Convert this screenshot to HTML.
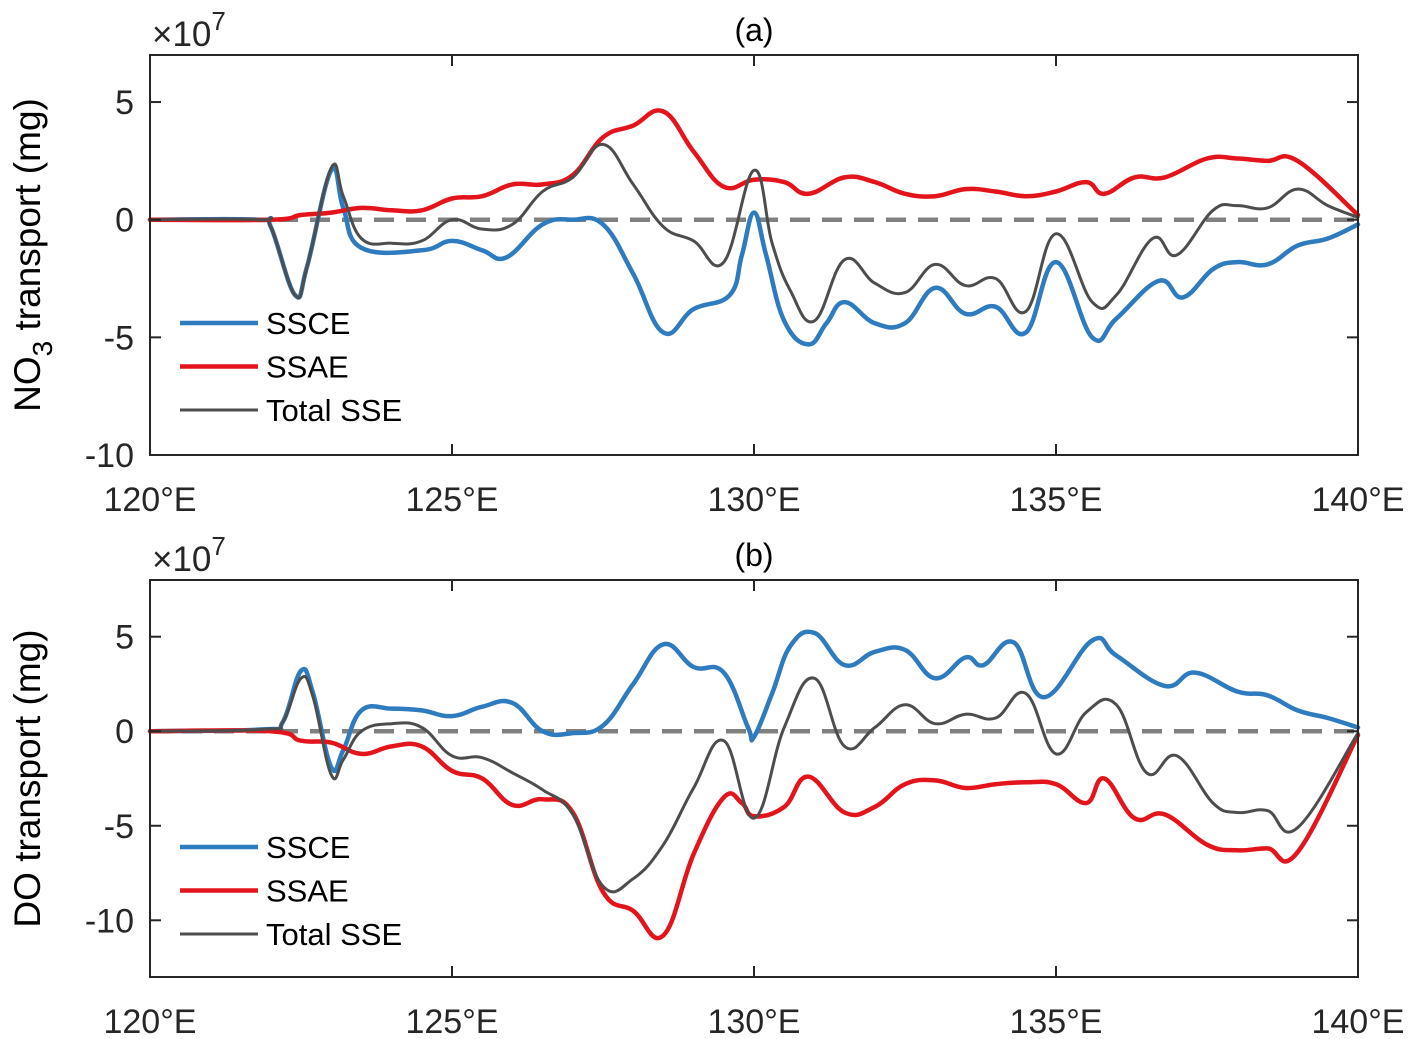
<!DOCTYPE html>
<html><head><meta charset="utf-8"><style>
html,body{margin:0;padding:0;background:#fff;}
svg{display:block;font-family:"Liberation Sans",Arial,sans-serif;}
</style></head><body>
<svg id="fig" width="1417" height="1039" viewBox="0 0 1417 1039"></svg>
<script>
// ---- Data (units of 1e7 mg), longitude in degrees E ----
const xTickLabels = ["120°E","125°E","130°E","135°E","140°E"];
const xTickVals = [120,125,130,135,140];
const yTicksA = [5,0,-5,-10];
const yTicksB = [5,0,-5,-10];
const seriesNames = ["SSCE","SSAE","Total SSE"];

const lonA_ssce = [120,121.8,122.0,122.4,122.6,123.0,123.2,123.5,124.5,125.0,125.5,125.9,126.5,127.0,127.5,128.0,128.5,129.0,129.6,129.8,130.0,130.2,130.5,130.9,131.2,131.5,132.0,132.5,133.0,133.5,134.0,134.5,135.0,135.6,136.0,136.7,137.1,137.6,138.0,138.5,139.0,139.5,140];
const valA_ssce = [0,0,-0.3,-3.2,-2.0,2.1,0.5,-1.2,-1.3,-0.9,-1.3,-1.6,-0.2,0.0,-0.2,-2.3,-4.8,-3.8,-3.2,-1.5,0.3,-1.5,-4.3,-5.3,-4.4,-3.5,-4.4,-4.4,-2.9,-4.0,-3.7,-4.8,-1.8,-5.0,-4.2,-2.6,-3.3,-2.1,-1.8,-1.9,-1.1,-0.8,-0.2];
const lonA_ssae = [120,122,122.5,123.0,123.5,124.0,124.5,125.0,125.5,126.0,126.5,127.0,127.5,128.0,128.5,129.0,129.5,130.0,130.5,130.9,131.5,132.0,132.5,133.0,133.5,134.0,134.5,135.0,135.5,135.8,136.3,136.8,137.5,138.0,138.5,139.0,140];
const valA_ssae = [0,0,0.2,0.3,0.5,0.4,0.4,0.9,1.0,1.5,1.5,1.9,3.5,4.0,4.6,2.9,1.4,1.7,1.6,1.1,1.8,1.6,1.1,1.0,1.3,1.2,1.0,1.2,1.6,1.1,1.8,1.8,2.6,2.6,2.5,2.5,0.2];
const lonA_tot = [120,121.8,122.0,122.4,122.6,123.0,123.2,123.5,124.0,124.5,125.0,125.5,126.0,126.5,127.0,127.5,128.0,128.5,129.0,129.5,130.0,130.3,130.6,131.0,131.5,132.0,132.5,133.0,133.5,134.0,134.5,135.0,135.6,136.0,136.6,137.0,137.6,138.0,138.5,139.0,139.5,140];
const valA_tot = [0,0,-0.3,-3.2,-2.0,2.2,1.0,-0.8,-1.0,-0.9,0.0,-0.4,-0.2,1.2,1.8,3.2,1.5,-0.3,-0.9,-1.8,2.1,-1.0,-3.0,-4.3,-1.7,-2.7,-3.1,-1.9,-2.8,-2.5,-3.9,-0.6,-3.5,-3.2,-0.8,-1.5,0.4,0.6,0.5,1.3,0.6,0.1];

const lonB_ssce = [120,121.9,122.2,122.5,122.7,123.0,123.2,123.5,124.0,124.5,125.0,125.5,126.0,126.5,127.0,127.5,128.0,128.5,129.0,129.5,129.9,130.0,130.3,130.6,131.0,131.5,132.0,132.5,133.0,133.5,133.8,134.3,134.8,135.6,136.0,136.8,137.3,138.0,138.5,139.0,139.5,140];
const valB_ssce = [0,0.1,0.5,3.2,2.0,-1.9,-1.0,1.1,1.2,1.1,0.8,1.3,1.5,0.0,-0.1,0.3,2.5,4.6,3.4,3.1,0.2,-0.3,2.0,4.5,5.2,3.5,4.2,4.3,2.8,3.9,3.5,4.7,1.8,4.8,4.0,2.4,3.1,2.1,1.9,1.1,0.7,0.2];
const lonB_ssae = [120,122,122.5,123.0,123.5,124.0,124.5,125.0,125.5,126.0,126.5,127.0,127.5,128.0,128.5,129.0,129.5,129.8,130.0,130.5,130.9,131.5,132.0,132.5,133.0,133.5,134.0,134.5,135.0,135.5,135.8,136.3,136.8,137.5,138.0,138.5,139.0,140];
const valB_ssae = [0,0,-0.5,-0.6,-1.2,-0.8,-0.8,-2.1,-2.5,-3.9,-3.6,-4.3,-8.5,-9.5,-10.8,-6.5,-3.5,-3.8,-4.5,-4.0,-2.4,-4.3,-4.0,-2.8,-2.6,-3.0,-2.8,-2.7,-2.8,-3.8,-2.5,-4.6,-4.4,-6.0,-6.3,-6.2,-6.4,-0.2];
const lonB_tot = [120,121.9,122.2,122.5,122.7,123.0,123.2,123.5,124.0,124.5,125.0,125.5,126.0,126.5,127.0,127.5,128.0,128.5,129.0,129.5,130.0,130.5,131.0,131.5,132.0,132.5,133.0,133.5,134.0,134.5,135.0,135.5,136.0,136.5,137.0,137.6,138.0,138.5,139.0,140];
const valB_tot = [0,0.1,0.5,2.8,1.8,-2.3,-1.5,0.0,0.4,0.2,-1.3,-1.4,-2.2,-3.1,-4.4,-8.2,-7.8,-6.0,-3.0,-0.5,-4.6,0.2,2.8,-0.8,0.2,1.4,0.4,0.9,0.7,2.0,-1.2,1.0,1.4,-2.2,-1.3,-3.8,-4.3,-4.2,-5.1,-0.1];

const NS="http://www.w3.org/2000/svg";
const svg=document.getElementById('fig');
function mk(tag,attrs,parent){const e=document.createElementNS(NS,tag);for(const k in attrs)e.setAttribute(k,attrs[k]);(parent||svg).appendChild(e);return e;}

const L=150,R=1358;
function xS(lon){return L+(lon-120)/20*(R-L);}

function smoothPath(pts){
  let d='M'+pts[0][0].toFixed(1)+','+pts[0][1].toFixed(1);
  for(let i=0;i<pts.length-1;i++){
    const p0=pts[Math.max(i-1,0)],p1=pts[i],p2=pts[i+1],p3=pts[Math.min(i+2,pts.length-1)];
    const t=0.2;
    const c1x=p1[0]+(p2[0]-p0[0])*t, c1y=p1[1]+(p2[1]-p0[1])*t;
    const c2x=p2[0]-(p3[0]-p1[0])*t, c2y=p2[1]-(p3[1]-p1[1])*t;
    d+=' C'+c1x.toFixed(1)+','+c1y.toFixed(1)+' '+c2x.toFixed(1)+','+c2y.toFixed(1)+' '+p2[0].toFixed(1)+','+p2[1].toFixed(1);
  }
  return d;
}

function panel(id,top,bottom,ymin,ymax,yTicks,title,ylabel,series,legY,xlabY){
  const g=mk('g',{});
  
  
  const yS=v=>top+(ymax-v)/(ymax-ymin)*(bottom-top);
  const z=mk('line',{x1:L,x2:R,y1:yS(0),y2:yS(0),stroke:'#808080','stroke-width':4.5,'stroke-dasharray':'20 12'},g);
  
  
  series.forEach(s=>{
    const pts=s.lon.map((lo,i)=>[xS(lo),yS(s.val[i])]);
    const p=mk('path',{d:smoothPath(pts),fill:'none',stroke:s.color,'stroke-width':s.w,'stroke-linejoin':'round','stroke-linecap':'round'},g);
    
    
  });
  const f=mk('rect',{x:L,y:top,width:R-L,height:bottom-top,fill:'none',stroke:'#262626','stroke-width':2},g);
  
  
  yTicks.forEach(v=>{
    const y=yS(v);
    mk('line',{x1:L,x2:L+11,y1:y,y2:y,stroke:'#262626','stroke-width':2},g);
    mk('line',{x1:R-11,x2:R,y1:y,y2:y,stroke:'#262626','stroke-width':2},g);
    const t=mk('text',{x:L-16,y:y+12,'text-anchor':'end','font-size':34,fill:'#262626'},g);
    t.textContent=String(v);
    
    
  });
  xTickVals.forEach((v,i)=>{
    const x=xS(v);
    mk('line',{x1:x,x2:x,y1:bottom,y2:bottom-11,stroke:'#262626','stroke-width':2},g);
    mk('line',{x1:x,x2:x,y1:top,y2:top+11,stroke:'#262626','stroke-width':2},g);
    const t=mk('text',{x:x,y:xlabY,'text-anchor':'middle','font-size':34,fill:'#262626'},g);
    t.textContent=xTickLabels[i];
    
    
  });
  const tt=mk('text',{x:754,y:top-14,'text-anchor':'middle','font-size':32,fill:'#000'},g);
  tt.textContent=title;
  
  
  const ex=mk('text',{x:152,y:top-9,'font-size':35,fill:'#262626'},g);
  ex.innerHTML='×10<tspan dy="-16" font-size="26">7</tspan>';
  
  
  const cy=(top+bottom)/2;
  const yl=mk('text',{x:0,y:0,'text-anchor':'middle','font-size':37,fill:'#000',transform:'translate(40,'+cy+') rotate(-90)'},g);
  yl.innerHTML=ylabel;
  
  
  series.forEach((s,i)=>{
    const y=legY+i*43.5;
    const lg=mk('g',{},g);
    
    
    mk('line',{x1:180,x2:258,y1:y,y2:y,stroke:s.color,'stroke-width':s.w},lg);
    const t=mk('text',{x:266,y:y+11,'font-size':31,fill:'#000'},lg);
    t.textContent=seriesNames[i];
  });
}
const BLUE='#2f7bbf',RED='#e3141b',GRAY='#4d4d4d';
panel('a',55,455,-10,7,yTicksA,'(a)','NO<tspan dy="12" font-size="28">3</tspan><tspan dy="-12"> transport (mg)</tspan>',[
  {name:'ssce-line',lon:lonA_ssce,val:valA_ssce,color:BLUE,w:4.5},
  {name:'ssae-line',lon:lonA_ssae,val:valA_ssae,color:RED,w:4.5},
  {name:'total-sse-line',lon:lonA_tot,val:valA_tot,color:GRAY,w:3}],323,511);
panel('b',580,977,-13,8,yTicksB,'(b)','DO transport (mg)',[
  {name:'ssce-line',lon:lonB_ssce,val:valB_ssce,color:BLUE,w:4.5},
  {name:'ssae-line',lon:lonB_ssae,val:valB_ssae,color:RED,w:4.5},
  {name:'total-sse-line',lon:lonB_tot,val:valB_tot,color:GRAY,w:3}],847,1033);
</script>
</body></html>
